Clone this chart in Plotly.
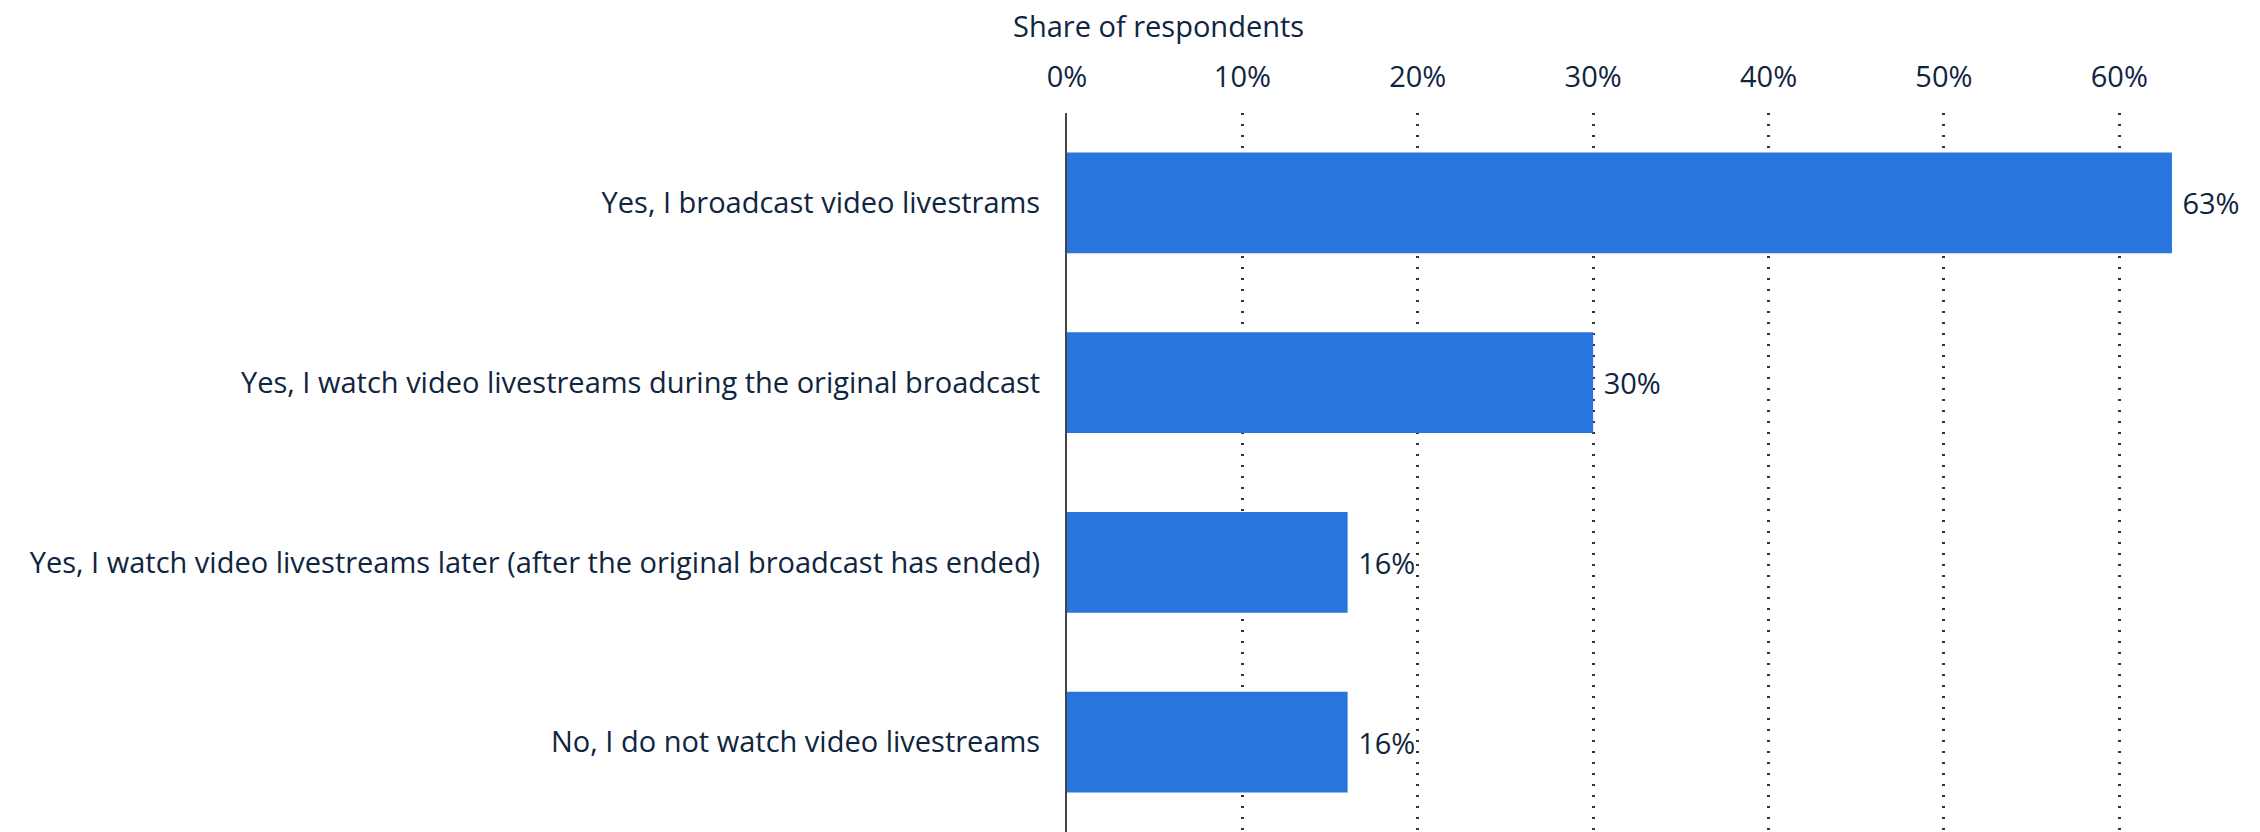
import plotly.graph_objects as go

categories = [
    "Yes, I broadcast video livestrams",
    "Yes, I watch video livestreams during the original broadcast",
    "Yes, I watch video livestreams later (after the original broadcast has ended)",
    "No, I do not watch video livestreams",
]
shares = [63, 30, 16, 16]
tick_values = [0, 10, 20, 30, 40, 50, 60]
tick_labels = ["0%", "10%", "20%", "30%", "40%", "50%", "60%"]

TEXT = "#0f2540"
BAR = "#2876dd"
FONT = "Open Sans"
SIZE = 29

fig = go.Figure(
    go.Bar(
        x=shares,
        y=categories,
        orientation="h",
        marker=dict(color=BAR, line=dict(width=0)),
        width=0.56,
        text=[f"\u00a0{v}%" for v in shares],
        textposition="outside",
        textfont=dict(family=FONT, size=SIZE, color=TEXT),
        cliponaxis=False,
    )
)

fig.update_layout(
    width=2260,
    height=832,
    margin=dict(l=1067, r=53, t=113, b=0),
    paper_bgcolor="white",
    plot_bgcolor="white",
    showlegend=False,
    font=dict(family=FONT, size=SIZE, color=TEXT),
    xaxis=dict(
        range=[0, 65],
        side="top",
        tickvals=tick_values,
        ticktext=tick_labels,
        showgrid=True,
        gridcolor="#333333",
        griddash="2px,9px",
        gridwidth=2.5,
        zeroline=False,
        showline=False,
        ticks="",
        ticklabelstandoff=19,
        tickfont=dict(family=FONT, size=SIZE, color=TEXT),
    ),
    yaxis=dict(
        autorange="reversed",
        showgrid=False,
        zeroline=False,
        showline=True,
        linecolor="#444444",
        linewidth=2,
        ticks="",
        ticklabelstandoff=19,
        tickfont=dict(family=FONT, size=SIZE, color=TEXT),
    ),
    annotations=[
        dict(
            text="Share of respondents",
            xref="paper",
            yref="paper",
            x=-0.049,
            y=1,
            yshift=88,
            xanchor="left",
            yanchor="middle",
            showarrow=False,
            font=dict(family=FONT, size=SIZE, color=TEXT),
        )
    ],
)

fig.write_html("out.html")
